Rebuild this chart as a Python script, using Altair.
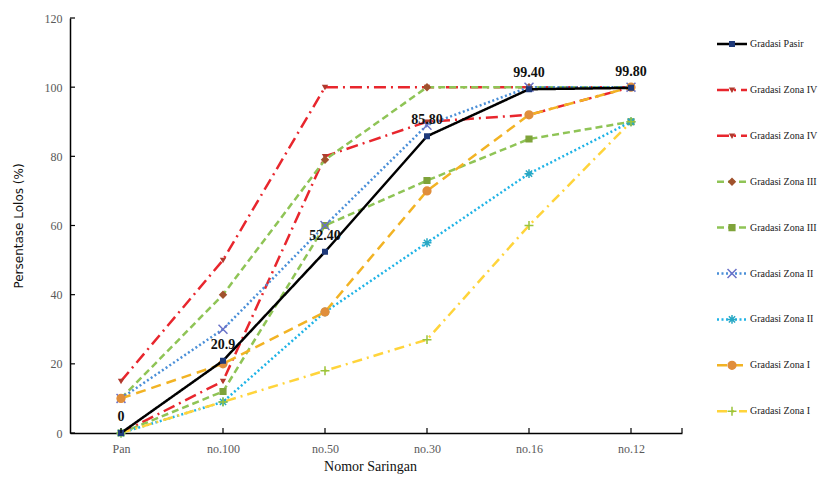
import altair as alt
import pandas as pd

# ---------------- data ----------------
sieves = ["Pan", "no.100", "no.50", "no.30", "no.16", "no.12"]

pasir = [0, 20.9, 52.4, 85.8, 99.4, 99.8]
pasir_labels = ["0", "20.9", "52.40", "85.80", "99.40", "99.80"]
zona4_atas = [15, 50, 100, 100, 100, 100]
zona4_bawah = [0, 15, 80, 90, 92, 100]
zona3_atas = [10, 40, 79, 100, 100, 100]
zona3_bawah = [0, 12, 60, 73, 85, 90]
zona2_atas = [10, 30, 60, 89, 100, 100]
zona2_bawah = [0, 9, 35, 55, 75, 90]
zona1_atas = [10, 20, 35, 70, 92, 100]
zona1_bawah = [0, 9, 18, 27, 60, 90]

series_keys = ["pasir", "z4a", "z4b", "z3a", "z3b", "z2a", "z2b", "z1a", "z1b"]
series_names = ["Gradasi Pasir", "Gradasi Zona IV", "Gradasi Zona IV",
                "Gradasi Zona III", "Gradasi Zona III", "Gradasi Zona II",
                "Gradasi Zona II", "Gradasi Zona I", "Gradasi Zona I"]
series_values = [pasir, zona4_atas, zona4_bawah, zona3_atas, zona3_bawah,
                 zona2_atas, zona2_bawah, zona1_atas, zona1_bawah]
y_ticks = [0, 20, 40, 60, 80, 100, 120]

# ---------------- styles ----------------
line_colors = ["#000000", "#E8262D", "#E8262D", "#8FC456", "#8FC456",
               "#4A8FD8", "#1FB3E6", "#F2B324", "#FFD43B"]
line_dash = [[1, 0], [12, 5, 2, 5], [12, 5, 2, 5], [7, 4], [7, 4],
             [2, 2.5], [2, 2.5], [10, 6], [10, 5, 2, 5]]
line_width = [2.5, 2.5, 2.5, 2.5, 2.5, 2, 2, 2.5, 2.5]
marker_shape = ["square", "triangle-down", "triangle-down", "diamond", "square",
                "M-1,-1L1,1M-1,1L1,-1",
                "M-1,0L1,0M0,-1L0,1M-0.7,-0.7L0.7,0.7M-0.7,0.7L0.7,-0.7",
                "circle", "M-1,0L1,0M0,-1L0,1"]
marker_stroke = ["#1F3A7A", "#B03A2E", "#B03A2E", "#A0522D", "#7FA33A",
                 "#6A72C8", "#28A8C4", "#E08E3C", "#9AC43B"]
marker_fill = ["#1F3A7A", "#B03A2E", "#B03A2E", "#A0522D", "#7FA33A",
               "transparent", "transparent", "#E08E3C", "transparent"]
marker_size = [20, 14, 14, 40, 32, 80, 80, 60, 80]

SERIF = "Liberation Serif"

rows = []
for k, name, vals in zip(series_keys, series_names, series_values):
    for j, (s, v) in enumerate(zip(sieves, vals)):
        rows.append({"key": k, "name": name, "sieve": s, "pct": v, "ord": j})
df = pd.DataFrame(rows)
df_zones = df[df.key != "pasir"]
df_pasir = df[df.key == "pasir"].copy()
df_pasir["lab"] = pasir_labels

df_leg = pd.DataFrame({"key": series_keys, "name": series_names,
                       "idx": list(range(len(series_keys)))})
df_yt = pd.DataFrame({"v": y_ticks})
df_xt = pd.DataFrame({"sieve": sieves})

W, H = 612, 415
LEG_X = W + 35

x_enc = alt.X("sieve:N", sort=sieves,
              scale=alt.Scale(type="point", padding=0.5, domain=sieves),
              axis=alt.Axis(title="Nomor Saringan", labelAngle=0, ticks=False,
                            domainColor="#000", domainWidth=1.5,
                            labelFont=SERIF, labelFontSize=12, labelColor="#595959",
                            labelPadding=10, titleFont=SERIF, titleFontSize=14,
                            titleFontWeight="normal", titleColor="#111",
                            titleX=300, titleY=37, titleAlign="center",
                            titleBaseline="alphabetic"))
y_enc = alt.Y("pct:Q", scale=alt.Scale(domain=[0, 120], nice=False),
              axis=alt.Axis(title="Persentase Lolos (%)", values=y_ticks, ticks=False,
                            grid=False, domainColor="#000", domainWidth=1.5,
                            labelFont=SERIF, labelFontSize=12, labelColor="#595959",
                            labelPadding=8, titleFont="DejaVu Sans", titleFontSize=12,
                            titleFontWeight="normal", titleColor="#111",
                            titleX=-52, titleY=H / 2, titleAngle=-90,
                            titleAlign="center", titleBaseline="middle"))

color_enc = alt.Color("key:N", scale=alt.Scale(domain=series_keys, range=line_colors), legend=None)
dash_enc = alt.StrokeDash("key:N", scale=alt.Scale(domain=series_keys, range=line_dash), legend=None)
sw_enc = alt.StrokeWidth("key:N", scale=alt.Scale(domain=series_keys, range=line_width), legend=None)

zone_lines = alt.Chart(df_zones).mark_line(strokeCap="butt").encode(
    x=x_enc, y=y_enc, color=color_enc, strokeDash=dash_enc, strokeWidth=sw_enc,
    order=alt.Order("ord:Q"), detail="key:N")
pasir_line = alt.Chart(df_pasir).mark_line().encode(
    x=x_enc, y=y_enc, color=color_enc, strokeDash=dash_enc, strokeWidth=sw_enc,
    order=alt.Order("ord:Q"))


def marker_layer(data, i, **enc):
    return alt.Chart(data).mark_point(
        shape=marker_shape[i], size=marker_size[i], stroke=marker_stroke[i],
        fill=marker_fill[i], filled=False, opacity=1, strokeWidth=1.5,
    ).encode(**enc)


zone_pts = [marker_layer(df[df.key == k], i, x=x_enc, y=y_enc)
            for i, k in enumerate(series_keys) if k != "pasir"]
pasir_pts = marker_layer(df_pasir, 0, x=x_enc, y=y_enc)

pasir_txt = alt.Chart(df_pasir).mark_text(
    dy=-16, font=SERIF, fontSize=14, fontWeight="bold", color="#111",
    baseline="middle", align="center").encode(x=x_enc, y=y_enc, text="lab:N")

# inward tick marks
ytick = alt.Chart(df_yt).mark_rule(color="#000", strokeWidth=1.2).encode(
    y=alt.Y("v:Q"), x=alt.value(0), x2=alt.value(5))
xtick = alt.Chart(df_xt).mark_rule(color="#000", strokeWidth=1.2).encode(
    x=alt.X("sieve:N", sort=sieves), y=alt.value(H), y2=alt.value(H - 5))
xend = alt.Chart(df_xt.head(1)).mark_rule(color="#000", strokeWidth=1.2).encode(
    x=alt.value(W), y=alt.value(H), y2=alt.value(H - 5))

# legend (drawn as marks, to the right of the plot)
LY = "26 + datum.idx * 45.9"
leg_base = alt.Chart(df_leg).transform_calculate(ly=LY)
leg_line = leg_base.mark_rule(strokeCap="butt").encode(
    x=alt.value(LEG_X), x2=alt.value(LEG_X + 30), y=alt.Y("ly:Q", scale=None),
    color=color_enc, strokeDash=dash_enc, strokeWidth=sw_enc)
leg_pts = [
    alt.Chart(df_leg[df_leg.key == k]).transform_calculate(ly=LY)
    .mark_point(shape=marker_shape[i], size=marker_size[i], stroke=marker_stroke[i],
                fill=marker_fill[i], filled=False, opacity=1, strokeWidth=1.5)
    .encode(x=alt.value(LEG_X + 15), y=alt.Y("ly:Q", scale=None))
    for i, k in enumerate(series_keys)
]
leg_txt = leg_base.mark_text(align="left", baseline="middle", font=SERIF,
                             fontSize=10, color="#222").encode(
    x=alt.value(LEG_X + 33), y=alt.Y("ly:Q", scale=None), text="name:N")

chart = alt.layer(
    zone_lines, *zone_pts, pasir_line, pasir_pts, pasir_txt,
    ytick, xtick, xend, leg_line, *leg_pts, leg_txt
).properties(
    width=W, height=H,
    autosize=alt.AutoSizeParams(type="none"),
    padding={"left": 62, "top": 10, "right": 812 - 62 - W, "bottom": 41},
    background="white",
).configure_view(stroke=None)

chart.save("out.html", embed_options={"renderer": "svg", "actions": False})
